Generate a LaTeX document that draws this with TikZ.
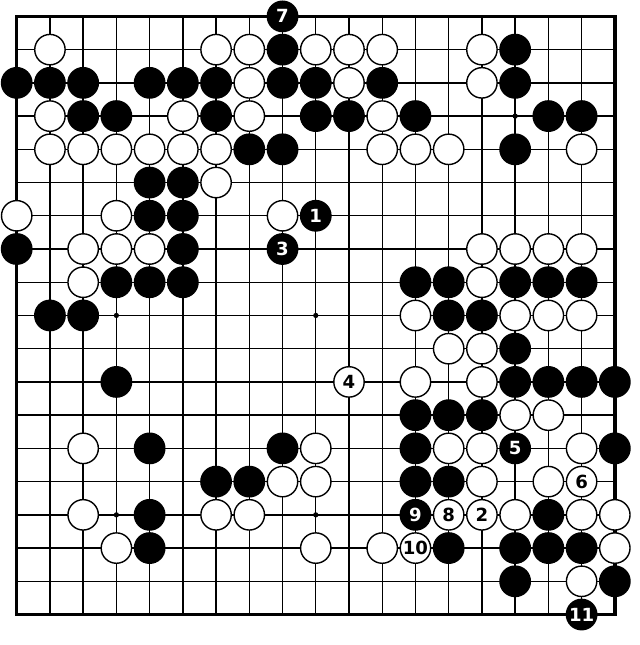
\documentclass[tikz,border=0pt]{standalone}
\usepackage{fontspec}
\setmainfont{DejaVu Sans}
\begin{document}
\begin{tikzpicture}[
        x=1cm, y=-1cm,
        every node/.style={circle, minimum size=0.915cm, inner sep=0pt, text centered,
            font=\bfseries\fontsize{15.5}{16}\selectfont},
        ws/.style={draw, fill=white, line width=1.2pt},
        bs/.style={draw, fill=black, line width=1.2pt, text=white},
        hoshi/.style={fill, minimum size=4.5pt},
        gridline/.style={line width=1.2pt},
        frame/.style={line width=3pt},
    ]
    \useasboundingbox (-0.5026,-0.4935) rectangle (18.757,18.917);

    % board
    \draw[gridline, step=1cm] (0,0) grid (18,18);
    \draw[frame] (0,0) rectangle (18,18);
    \node[hoshi](h1) at (3,3) {};   \node[hoshi](h2) at (9,3) {};   \node[hoshi](h3) at (15,3) {};
    \node[hoshi](h4) at (3,9) {};   \node[hoshi](h5) at (9,9) {};   \node[hoshi](h6) at (15,9) {};
    \node[hoshi](h7) at (3,15) {};  \node[hoshi](h8) at (9,15) {};  \node[hoshi](h9) at (15,15) {};

    % stones, row by row
    \node[bs](b8-0) at (8,0) {7};
    \node[ws](w1-1) at (1,1) {}; \node[ws](w6-1) at (6,1) {}; \node[ws](w7-1) at (7,1) {};
    \node[bs](b8-1) at (8,1) {}; \node[ws](w9-1) at (9,1) {}; \node[ws](w10-1) at (10,1) {};
    \node[ws](w11-1) at (11,1) {}; \node[ws](w14-1) at (14,1) {}; \node[bs](b15-1) at (15,1) {};

    \node[bs](b0-2) at (0,2) {}; \node[bs](b1-2) at (1,2) {}; \node[bs](b2-2) at (2,2) {};
    \node[bs](b4-2) at (4,2) {}; \node[bs](b5-2) at (5,2) {}; \node[bs](b6-2) at (6,2) {};
    \node[ws](w7-2) at (7,2) {}; \node[bs](b8-2) at (8,2) {}; \node[bs](b9-2) at (9,2) {};
    \node[ws](w10-2) at (10,2) {}; \node[bs](b11-2) at (11,2) {};
    \node[ws](w14-2) at (14,2) {}; \node[bs](b15-2) at (15,2) {};

    \node[ws](w1-3) at (1,3) {}; \node[bs](b2-3) at (2,3) {}; \node[bs](b3-3) at (3,3) {};
    \node[ws](w5-3) at (5,3) {}; \node[bs](b6-3) at (6,3) {}; \node[ws](w7-3) at (7,3) {};
    \node[bs](b9-3) at (9,3) {}; \node[bs](b10-3) at (10,3) {}; \node[ws](w11-3) at (11,3) {};
    \node[bs](b12-3) at (12,3) {}; \node[bs](b16-3) at (16,3) {}; \node[bs](b17-3) at (17,3) {};

    \node[ws](w1-4) at (1,4) {}; \node[ws](w2-4) at (2,4) {}; \node[ws](w3-4) at (3,4) {};
    \node[ws](w4-4) at (4,4) {}; \node[ws](w5-4) at (5,4) {}; \node[ws](w6-4) at (6,4) {};
    \node[bs](b7-4) at (7,4) {}; \node[bs](b8-4) at (8,4) {};
    \node[ws](w11-4) at (11,4) {}; \node[ws](w12-4) at (12,4) {}; \node[ws](w13-4) at (13,4) {};
    \node[bs](b15-4) at (15,4) {}; \node[ws](w17-4) at (17,4) {};

    \node[bs](b4-5) at (4,5) {}; \node[bs](b5-5) at (5,5) {}; \node[ws](w6-5) at (6,5) {};

    \node[ws](w0-6) at (0,6) {}; \node[ws](w3-6) at (3,6) {}; \node[bs](b4-6) at (4,6) {};
    \node[bs](b5-6) at (5,6) {}; \node[ws](w8-6) at (8,6) {}; \node[bs](b9-6) at (9,6) {1};

    \node[bs](b0-7) at (0,7) {}; \node[ws](w2-7) at (2,7) {}; \node[ws](w3-7) at (3,7) {};
    \node[ws](w4-7) at (4,7) {}; \node[bs](b5-7) at (5,7) {}; \node[bs](b8-7) at (8,7) {3};
    \node[ws](w14-7) at (14,7) {}; \node[ws](w15-7) at (15,7) {};
    \node[ws](w16-7) at (16,7) {}; \node[ws](w17-7) at (17,7) {};

    \node[ws](w2-8) at (2,8) {}; \node[bs](b3-8) at (3,8) {}; \node[bs](b4-8) at (4,8) {};
    \node[bs](b5-8) at (5,8) {}; \node[bs](b12-8) at (12,8) {}; \node[bs](b13-8) at (13,8) {};
    \node[ws](w14-8) at (14,8) {}; \node[bs](b15-8) at (15,8) {};
    \node[bs](b16-8) at (16,8) {}; \node[bs](b17-8) at (17,8) {};

    \node[bs](b1-9) at (1,9) {}; \node[bs](b2-9) at (2,9) {}; \node[ws](w12-9) at (12,9) {};
    \node[bs](b13-9) at (13,9) {}; \node[bs](b14-9) at (14,9) {}; \node[ws](w15-9) at (15,9) {};
    \node[ws](w16-9) at (16,9) {}; \node[ws](w17-9) at (17,9) {};

    \node[ws](w13-10) at (13,10) {}; \node[ws](w14-10) at (14,10) {}; \node[bs](b15-10) at (15,10) {};

    \node[bs](b3-11) at (3,11) {}; \node[ws](w10-11) at (10,11) {4}; \node[ws](w12-11) at (12,11) {};
    \node[ws](w14-11) at (14,11) {}; \node[bs](b15-11) at (15,11) {}; \node[bs](b16-11) at (16,11) {};
    \node[bs](b17-11) at (17,11) {}; \node[bs](b18-11) at (18,11) {};

    \node[bs](b12-12) at (12,12) {}; \node[bs](b13-12) at (13,12) {}; \node[bs](b14-12) at (14,12) {};
    \node[ws](w15-12) at (15,12) {}; \node[ws](w16-12) at (16,12) {};

    \node[ws](w2-13) at (2,13) {}; \node[bs](b4-13) at (4,13) {}; \node[bs](b8-13) at (8,13) {};
    \node[ws](w9-13) at (9,13) {}; \node[bs](b12-13) at (12,13) {}; \node[ws](w13-13) at (13,13) {};
    \node[ws](w14-13) at (14,13) {}; \node[bs](b15-13) at (15,13) {5};
    \node[ws](w17-13) at (17,13) {}; \node[bs](b18-13) at (18,13) {};

    \node[bs](b6-14) at (6,14) {}; \node[bs](b7-14) at (7,14) {}; \node[ws](w8-14) at (8,14) {};
    \node[ws](w9-14) at (9,14) {}; \node[bs](b12-14) at (12,14) {}; \node[bs](b13-14) at (13,14) {};
    \node[ws](w14-14) at (14,14) {}; \node[ws](w16-14) at (16,14) {}; \node[ws](w17-14) at (17,14) {6};

    \node[ws](w2-15) at (2,15) {}; \node[bs](b4-15) at (4,15) {}; \node[ws](w6-15) at (6,15) {};
    \node[ws](w7-15) at (7,15) {}; \node[bs](b12-15) at (12,15) {9}; \node[ws](w13-15) at (13,15) {8};
    \node[ws](w14-15) at (14,15) {2}; \node[ws](w15-15) at (15,15) {}; \node[bs](b16-15) at (16,15) {};
    \node[ws](w17-15) at (17,15) {}; \node[ws](w18-15) at (18,15) {};

    \node[ws](w3-16) at (3,16) {}; \node[bs](b4-16) at (4,16) {}; \node[ws](w9-16) at (9,16) {};
    \node[ws](w11-16) at (11,16) {}; \node[ws](w12-16) at (12,16) {10}; \node[bs](b13-16) at (13,16) {};
    \node[bs](b15-16) at (15,16) {}; \node[bs](b16-16) at (16,16) {}; \node[bs](b17-16) at (17,16) {};
    \node[ws](w18-16) at (18,16) {};

    \node[bs](b15-17) at (15,17) {}; \node[ws](w17-17) at (17,17) {}; \node[bs](b18-17) at (18,17) {};

    \node[bs](b17-18) at (17,18) {11};
    \end{tikzpicture}
\end{document}
